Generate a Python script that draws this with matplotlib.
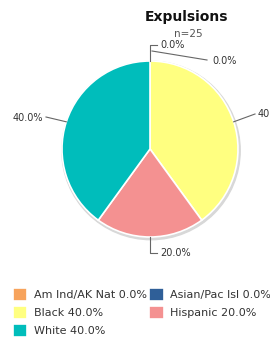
import numpy as np
import matplotlib.pyplot as plt
from matplotlib.patches import Circle

groups = ["Am Ind/AK Nat", "Asian/Pac Isl", "Black", "Hispanic", "White"]
shares = [0.0, 0.0, 40.0, 20.0, 40.0]
colors = ["#F7A35C", "#2F5F98", "#FFFF80", "#F49191", "#00BDBB"]
n_students = 25

W, H = 270, 341
fig = plt.figure(figsize=(W / 100, H / 100), dpi=100)
ax = fig.add_axes([0, 0, 1, 1])
ax.set_xlim(0, W)
ax.set_ylim(0, H)
ax.set_aspect("equal")
ax.axis("off")


def px(x, y):
    # pixel coords (y down) -> data coords (y up)
    return x, H - y


cx, cy = px(150, 149)
r = 88

ax.add_patch(Circle((cx + 1, cy - 1.5), r + 1.2, color="#d8d8d8", zorder=0))
wedges, _ = ax.pie(shares, colors=colors, startangle=90, counterclock=False,
                   radius=r, center=(cx, cy), frame=True,
                   wedgeprops=dict(edgecolor="white", linewidth=1.2))
ax.set_xlim(0, W)
ax.set_ylim(0, H)
ax.axis("off")

txt = "#333333"
lc = "#666666"
fs = 7


def edge_point(w):
    a = np.deg2rad((w.theta1 + w.theta2) / 2)
    return cx + r * np.cos(a), cy + r * np.sin(a)


# zero slices at the top
top = (cx, cy + r)
ax.plot([top[0], top[0], top[0] + 7], [top[1], px(0, 45)[1], px(0, 45)[1]], color=lc, lw=0.8)
ax.text(*px(160, 45), f"{shares[0]:.1f}%", fontsize=fs, color=txt, va="center", ha="left")
ax.plot([px(152, 51)[0], px(207, 60)[0]], [px(152, 51)[1], px(207, 60)[1]], color=lc, lw=0.8)
ax.text(*px(212, 61), f"{shares[1]:.1f}%", fontsize=fs, color=txt, va="center", ha="left")

# Black
ex, ey = edge_point(wedges[2])
ax.plot([ex, px(255, 114)[0]], [ey, px(255, 114)[1]], color=lc, lw=0.8)
ax.text(*px(258, 114), f"{shares[2]:.1f}%", fontsize=fs, color=txt, va="center", ha="left")

# White
ex, ey = edge_point(wedges[4])
ax.plot([ex, px(46, 117)[0]], [ey, px(46, 117)[1]], color=lc, lw=0.8)
ax.text(*px(43, 118), f"{shares[4]:.1f}%", fontsize=fs, color=txt, va="center", ha="right")

# Hispanic
ex, ey = edge_point(wedges[3])
ax.plot([ex, ex, ex + 7], [ey, px(0, 253)[1], px(0, 253)[1]], color=lc, lw=0.8)
ax.text(*px(160, 253), f"{shares[3]:.1f}%", fontsize=fs, color=txt, va="center", ha="left")

fig.text(187 / W, 1 - 17 / H, "Expulsions", fontsize=10, fontweight="bold",
         color="#111111", ha="center", va="center")
fig.text(188 / W, 1 - 34 / H, f"n={n_students}", fontsize=7.5, color="#555555",
         ha="center", va="center")

order = [0, 2, 4, 1, 3]
handles = [wedges[i] for i in order]
labels = [f"{groups[i]} {shares[i]:.1f}%" for i in order]
fig.legend(handles, labels, ncol=2, loc="upper left",
           bbox_to_anchor=(13 / W, 1 - 288 / H), frameon=False,
           fontsize=8, handlelength=1.3, handleheight=1.4, handletextpad=0.55,
           columnspacing=0.25, labelspacing=0.45, borderpad=0, borderaxespad=0,
           labelcolor=txt)

fig.savefig("out.png", dpi=100)
